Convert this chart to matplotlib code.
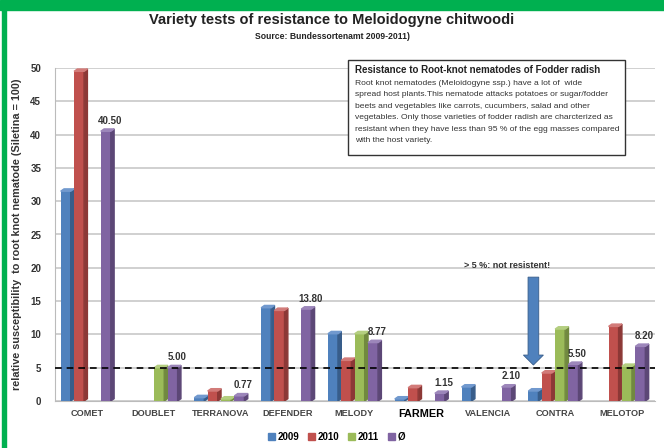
import numpy as np
import matplotlib
matplotlib.use("Agg")
import matplotlib.pyplot as plt
from matplotlib.patches import Rectangle, Polygon, FancyArrow

plt.rcParams['font.family'] = ['Liberation Sans', 'DejaVu Sans']

# --- data ---
varieties = ["COMET", "DOUBLET", "TERRANOVA", "DEFENDER", "MELODY",
             "FARMER", "VALENCIA", "CONTRA", "MELOTOP"]
series_names = ["2009", "2010", "2011", "Ø"]
v2009 = [31.5, np.nan, 0.5, 14.0, 10.1, 0.3, 2.1, 1.5, np.nan]
v2010 = [49.5, np.nan, 1.5, 13.6, 6.1, 2.0, np.nan, 4.2, 11.2]
v2011 = [np.nan, 5.0, 0.3, np.nan, 10.1, np.nan, np.nan, 10.8, 5.2]
vavg = [40.50, 5.00, 0.77, 13.80, 8.77, 1.15, 2.10, 5.50, 8.20]
threshold = 5

colors = ["#4F81BD", "#C0504D", "#9BBB59", "#8064A2"]
sides = ["#385D8A", "#8C3836", "#71893F", "#5C4776"]
tops = ["#7199CE", "#D27B79", "#B4CE80", "#9C86BA"]

fig = plt.figure(figsize=(6.64, 4.48), dpi=100)
ax = fig.add_axes([55 / 664, 47 / 448, 600 / 664, 333 / 448])

x = np.arange(len(varieties))
step = 0.2
w = 0.15
dx, dy = 0.05, 0.35
data = [v2009, v2010, v2011, vavg]

for k, vals in enumerate(data):
    pos = x + (k - 1.5) * step - 0.02
    ax.bar(pos, vals, w, color=colors[k], zorder=3)
    for p, v in zip(pos, vals):
        if np.isnan(v):
            continue
        r = p + w / 2
        l = p - w / 2
        ax.add_patch(Polygon([(r, 0), (r + dx, dy), (r + dx, v + dy), (r, v)],
                             closed=True, color=sides[k], zorder=3))
        ax.add_patch(Polygon([(l, v), (l + dx, v + dy), (r + dx, v + dy), (r, v)],
                             closed=True, color=tops[k], zorder=3))

# value labels on the average bars
for p, v in zip(x + 1.5 * step, vavg):
    ax.annotate(f"{v:.2f}", (p, v), xytext=(2, 4), textcoords="offset points",
                ha="center", va="bottom", fontsize=7, fontweight="bold",
                color="#333333", zorder=5)

ax.axhline(threshold, color="black", ls=(0, (4, 3)), lw=1.2, zorder=4)

ax.set_xlim(-0.48, 8.5)
ax.set_ylim(0, 50)
ax.set_yticks(np.arange(0, 51, 5))
ax.yaxis.grid(True, color="#C8C8C8", lw=1.2, zorder=0)
ax.set_axisbelow(True)
ax.tick_params(axis="y", length=0, pad=10, labelsize=7, labelcolor="#333333")
ax.tick_params(axis="x", length=0, pad=6, labelsize=6.6)
ax.set_xticks(x)
ax.set_xticklabels(varieties, fontweight="bold", color="#444444")
for lab in ax.get_xticklabels():
    if lab.get_text() == "FARMER":
        lab.set_color("black")
        lab.set_fontsize(7.8)
for lab in ax.get_yticklabels():
    lab.set_fontweight("bold")
for s in ["top", "right"]:
    ax.spines[s].set_visible(False)
ax.spines["left"].set_color("#BBBBBB")
ax.spines["bottom"].set_color("#BBBBBB")
ax.set_ylabel("relative susceptibility  to root knot nematode (Siletina = 100)",
              fontsize=7.8, fontweight="bold", color="#333333")
ax.yaxis.set_label_coords(-0.055, 0.5)

# arrow + note
ax.add_patch(FancyArrow(6.68, 18.6, 0, -13.2, width=0.16, head_width=0.3,
                        head_length=1.5, length_includes_head=True,
                        color="#4F81BD", ec="#385D8A", lw=0.6, zorder=5))
ax.text(6.28, 19.6, "> 5 %: not resistent!", ha="center", va="bottom",
        fontsize=6.5, fontweight="bold", color="#333333", zorder=5)

# legend
handles = [Rectangle((0, 0), 1, 1, color=c) for c in colors]
fig.legend(handles, series_names, loc="center", bbox_to_anchor=(0.507, 0.025),
           ncol=4, frameon=False, handlelength=0.7, handleheight=0.7,
           handletextpad=0.3, columnspacing=0.9,
           prop={"size": 7, "weight": "bold"})

# titles
fig.text(0.5, 0.955, "Variety tests of resistance to Meloidogyne chitwoodi",
         ha="center", va="center", fontsize=10.5, fontweight="bold", color="#222222")
fig.text(0.5, 0.918, "Source: Bundessortenamt 2009-2011)", ha="center",
         va="center", fontsize=6.2, fontweight="bold", color="#222222")

# info box
bx0, bx1 = 348 / 664, 625 / 664
by0, by1 = 1 - 155 / 448, 1 - 60 / 448
fig.patches.append(Rectangle((bx0, by0), bx1 - bx0, by1 - by0, transform=fig.transFigure,
                             facecolor="white", edgecolor="#333333", lw=1, zorder=10))
fig.text(bx0 + 0.011, 1 - 70 / 448, "Resistance to Root-knot nematodes of Fodder radish",
         fontsize=7, fontweight="bold", va="center", color="#222222", zorder=11)
body = ["Root knot nematodes (Meloidogyne ssp.) have a lot of  wide",
        "spread host plants.This nematode attacks potatoes or sugar/fodder",
        "beets and vegetables like carrots, cucumbers, salad and other",
        "vegetables. Only those varieties of fodder radish are charcterized as",
        "resistant when they have less than 95 % of the egg masses compared",
        "with the host variety."]
for i, line in enumerate(body):
    fig.text(bx0 + 0.011, 1 - (83 + i * 11.6) / 448, line, fontsize=6.1,
             va="center", color="#333333", zorder=11)

# green frame
fig.patches.append(Rectangle((0, 1 - 10 / 448), 1, 10 / 448, transform=fig.transFigure,
                             color="#00B050", zorder=0))
fig.patches.append(Rectangle((2 / 664, 0), 4 / 664, 1, transform=fig.transFigure,
                             color="#00B050", zorder=0))

fig.savefig("out.png", dpi=100)
